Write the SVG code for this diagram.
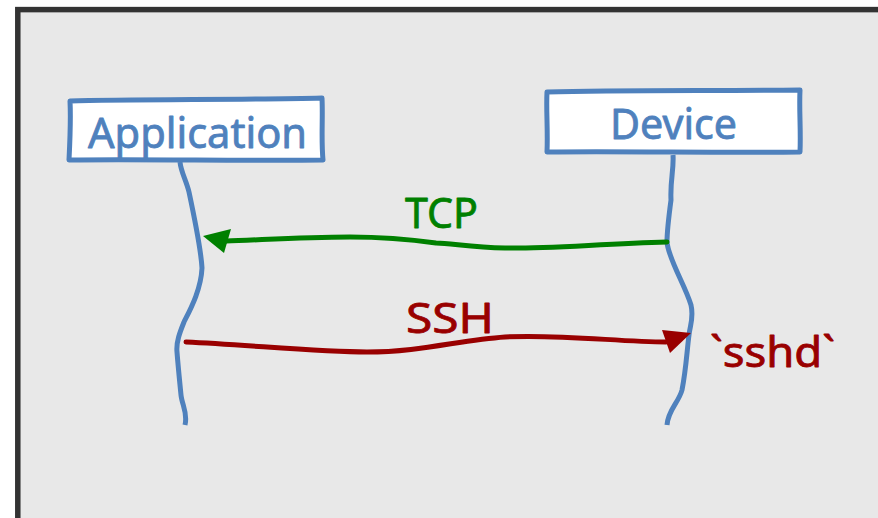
<svg xmlns="http://www.w3.org/2000/svg" width="878" height="518" viewBox="0 0 878 518">
  <defs>
    <style>
      .panel { fill: #e8e8e8; stroke: #333333; stroke-width: 5.5; }
      .box { fill: #ffffff; stroke: #4f81bd; stroke-width: 5; stroke-linejoin: round; }
      .life { fill: none; stroke: #4f81bd; stroke-width: 5; stroke-linecap: butt; }
      .label { font-family: "Noto Sans", "DejaVu Sans", sans-serif; font-size: 42px; text-anchor: start; stroke-width: 0.8; stroke-linejoin: round; }
      .blue { fill: #4f81bd; stroke: #4f81bd; }
      .green { fill: #008000; stroke: #008000; }
      .red { fill: #990000; stroke: #990000; }
      .msg { fill: none; stroke-width: 5; stroke-linecap: round; }
    </style>
  </defs>

  <rect width="878" height="518" fill="#ffffff"/>
  <rect class="panel" x="17.8" y="9.6" width="900" height="540"/>

  <!-- participants -->
  <g id="application">
    <path class="box" d="M70,101 C130,99 250,100 322,98 C323,118 321,140 323,160 C250,161 140,159 69,160 C70,140 71,120 70,101 Z"/>
    <text class="label blue" x="88" y="148" textLength="219" lengthAdjust="spacingAndGlyphs">Application</text>
    <path class="life" d="M180,162 C181,172 186,180 189,192 C196,225 201,250 202,268 C201,290 190,310 184,322 C180,332 176,342 177,352 C178,365 180,385 181,395 C182,405 188,413 185,425"/>
  </g>

  <g id="device">
    <path class="box" d="M547,92 C620,90 720,91 800,90 C799,110 801,130 800,152 C720,153 620,151 547,152 C548,130 546,110 547,92 Z"/>
    <text class="label blue" x="610" y="139" textLength="127" lengthAdjust="spacingAndGlyphs">Device</text>
    <path class="life" d="M673,155 C674,170 670,180 671,200 C669,215 667,230 667,242 C668,258 685,285 691,305 C694,318 690,325 689,335 C687,350 686,370 682,390 C679,402 668,410 667,425"/>
    <text class="label red" x="710" y="367" textLength="125" lengthAdjust="spacingAndGlyphs">`sshd`</text>
  </g>

  <!-- messages -->
  <g id="connectors">
    <g id="tcp">
      <path class="msg" stroke="#008000" d="M667,242 C600,244 540,249 505,248 C470,247 450,243 436,243 C400,238 370,237 350,237 C300,237 260,240 226,241"/>
      <polygon fill="#008000" points="203,236 231,229 224,253"/>
      <text class="label green" x="405" y="228" textLength="73" lengthAdjust="spacingAndGlyphs">TCP</text>
    </g>
    <g id="ssh">
      <path class="msg" stroke="#990000" d="M186,342 C250,345 320,352 367,352 C420,352 460,340 505,337 C560,334 620,342 666,342"/>
      <polygon fill="#990000" points="691,333 662,330 670,353"/>
      <text class="label red" x="406" y="333" textLength="88" lengthAdjust="spacingAndGlyphs">SSH</text>
    </g>
  </g>
</svg>
